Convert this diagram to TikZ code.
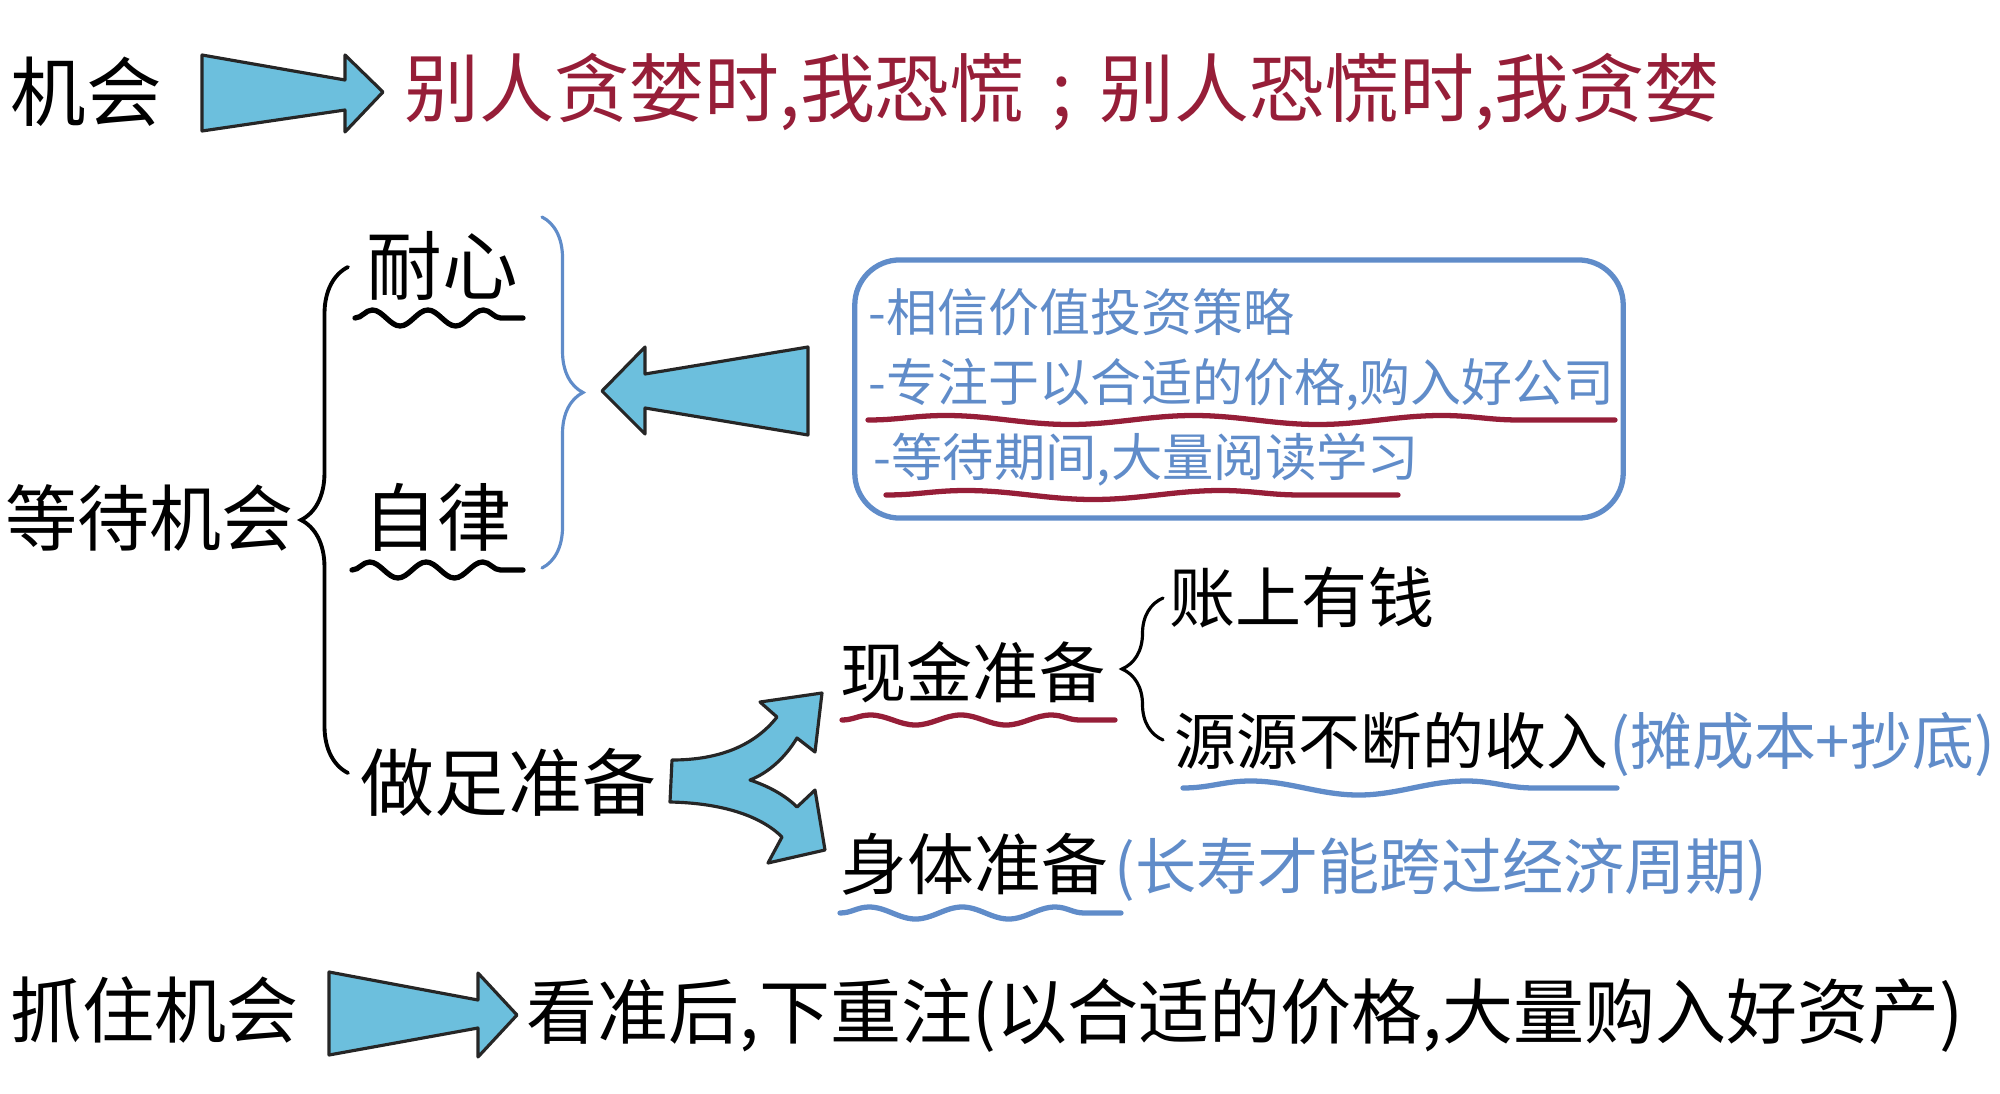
\documentclass[tikz,border=0pt]{standalone}
\usepackage{fontspec}
\setmainfont{Noto Sans CJK SC}
\usepackage{tikz}
\usetikzlibrary{positioning,calc,decorations.pathmorphing,decorations.pathreplacing}

\definecolor{arrowcyan}{RGB}{108,191,221}
\definecolor{noteblue}{RGB}{96,140,201}
\definecolor{markred}{RGB}{150,30,56}

\begin{document}
\begin{tikzpicture}[
    x=0.01cm, y=-0.01cm,
    txt/.style={inner sep=0pt, anchor=west, font=\fontsize{#1}{#1}\selectfont},
    fatarrow/.style={draw=black!85, line width=0.9pt, fill=arrowcyan, line join=round},
    curly/.style={decorate, decoration={brace, amplitude=#1}, line width=1.1pt, line cap=round},
    squiggle/.style n args={3}{decorate, decoration={snake, amplitude=#2, segment length=#3}, draw=#1, line width=1.5pt, line cap=round}
]
    \useasboundingbox (0,0) rectangle (2000,1094);

    % top row
    \node[txt=21.5pt] (Chance) at (10,92) {机会};
    \draw[fatarrow] (202,55) -- (345,80) -- (345,55) -- (383,92) -- (345,132) -- (345,110) -- (202,131) -- cycle;
    \coordinate (TopTip) at (383,92);
    \node[txt=21.3pt, text=markred, right=0.21cm of TopTip] (Rule) {别人贪婪时,我恐慌\hspace{0.36em};\hspace{0.36em}别人恐慌时,我贪婪};

    % waiting
    \node[txt=20.5pt] (Wait) at (5,518) {等待机会};
    \draw[curly=0.47cm] (348,773) -- (348,267);
    \node[txt=21.5pt] (Patience) at (366,266) {耐心};
    \node[txt=21pt] (Discipline) at (363,517) {自律};
    \node[txt=21pt] (Prepare) at (360,782) {做足准备};
    \draw[squiggle={black}{0.08cm}{0.555cm}] (355,318) -- (523,318);
    \draw[squiggle={black}{0.08cm}{0.565cm}] (352,570) -- (523,570);
    \draw[curly=0.41cm, draw=noteblue, line width=0.9pt] (542,217) -- (542,568);

    \draw[fatarrow] (602,391) -- (645,347) -- (645,374) -- (808,347) -- (808,435) -- (645,408) -- (645,434) -- cycle;

    \node[draw=noteblue, line width=1.5pt, rounded corners=0.45cm, minimum width=7.68cm, minimum height=2.58cm, inner sep=0pt] (Belief) at (1239,389) {};
    \node[txt=14.5pt, text=noteblue] (LineA) at (868,312) {-相信价值投资策略};
    \node[txt=14.5pt, text=noteblue] (LineB) at (868,385) {-专注于以合适的价格,购入好公司};
    \node[txt=14.6pt, text=noteblue] (LineC) at (873,460) {-等待期间,大量阅读学习};
    \draw[squiggle={markred}{0.045cm}{2.48cm}] (868,420) -- (1615,420);
    \draw[squiggle={markred}{0.045cm}{2.55cm}] (886,495) -- (1398,495);

    % preparation
    \draw[fatarrow] (672,760) .. controls (720,760) and (755,745) .. (777,717)
        -- (760,702) -- (822,693) -- (815,752) -- (797,738)
        .. controls (785,758) and (768,773) .. (750,780)
        .. controls (768,786) and (785,795) .. (797,807)
        -- (815,790) -- (825,850) -- (768,863) -- (782,837)
        .. controls (760,815) and (720,803) .. (670,802) -- cycle;

    \node[txt=18.8pt] (Cash) at (840,672) {现金准备};
    \draw[squiggle={markred}{0.05cm}{0.905cm}] (842,720) -- (1115,720);
    \draw[curly=0.41cm, line width=0.9pt] (1163,740) -- (1163,598);
    \node[txt=18.8pt] (Balance) at (1169,597) {账上有钱};
    \node[txt=17.6pt] (Income) at (1174,741) {源源不断的收入};
    \node[txt=17.6pt, text=noteblue, anchor=base west] (IncomeNote) at (Income.base east) {(摊成本+抄底)};
    \draw[squiggle={noteblue}{0.07cm}{2.16cm}] (1183,788) -- (1617,788);

    \node[txt=19pt] (Health) at (840,864) {身体准备};
    \node[txt=17.4pt, text=noteblue, anchor=base west] (HealthNote) at ([xshift=0.05cm]Health.base east) {(长寿才能跨过经济周期)};
    \draw[squiggle={noteblue}{0.06cm}{0.93cm}] (840,913) -- (1121,913);

    % bottom row
    \node[txt=20.5pt] (Seize) at (10,1010) {抓住机会};
    \draw[fatarrow] (329,972) -- (478,1000) -- (478,973) -- (517,1015) -- (478,1057) -- (478,1028) -- (329,1055) -- cycle;
    \coordinate (LowTip) at (517,1015);
    \node[txt=20.2pt, right=0.09cm of LowTip] (Action) {看准后,下重注(以合适的价格,大量购入好资产)};
\end{tikzpicture}
\end{document}
